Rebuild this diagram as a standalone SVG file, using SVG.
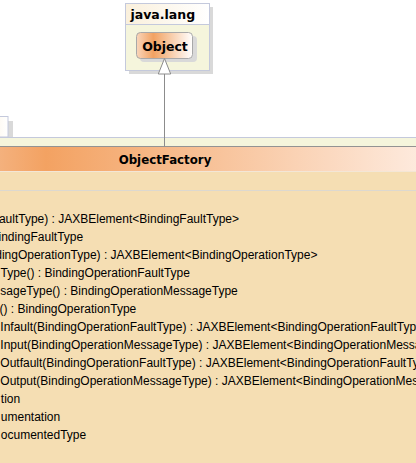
<svg xmlns="http://www.w3.org/2000/svg" width="416" height="463" viewBox="0 0 416 463">
<style>
.op{font-family:"Liberation Sans",Arial,sans-serif;font-size:12px;fill:#000}
.bold{font-family:"DejaVu Sans",Verdana,sans-serif;font-weight:bold;fill:#000}
.pkgborder{stroke:#c4c9dc;stroke-width:1}
.shadow{fill:#d9d9d9}
.conn{stroke:#8c8c8c;stroke-width:1;fill:none}
</style>
<defs>
<linearGradient id="pkgHead" x1="0" y1="0" x2="1" y2="0">
<stop offset="0" stop-color="#faf0dc"/>
<stop offset="1" stop-color="#ffffff"/>
</linearGradient>
<linearGradient id="objGrad" x1="0" y1="0" x2="1" y2="0">
<stop offset="0" stop-color="#f9d6bc"/>
<stop offset="0.3" stop-color="#f2a262"/>
<stop offset="1" stop-color="#ffffff"/>
</linearGradient>
<linearGradient id="clsHead" gradientUnits="userSpaceOnUse" x1="-60" y1="0" x2="470" y2="0">
<stop offset="0" stop-color="#f6c4a0"/>
<stop offset="0.2" stop-color="#f3a262"/>
<stop offset="1" stop-color="#fff4ee"/>
</linearGradient>
</defs>
<rect width="416" height="463" fill="#ffffff"/>

<g id="pkg-outer">
<rect class="shadow" x="8" y="121" width="5" height="16"/>
<rect x="-20" y="116.5" width="28" height="20.5" fill="url(#pkgHead)" class="pkgborder"/>
<rect x="-20" y="137.5" width="460" height="340" fill="#f5f5dc" class="pkgborder"/>
</g>

<g id="java.lang">
<rect class="shadow" x="129" y="7" width="84" height="67"/>
<rect x="125.5" y="3.5" width="84" height="67" fill="#f5f5dc" class="pkgborder"/>
<rect x="125.5" y="3.5" width="84" height="21" fill="url(#pkgHead)" class="pkgborder"/>
<text class="bold" x="130.5" y="18.5" font-size="12.5">java.lang</text>
</g>

<g id="Object">
<rect class="shadow" x="140" y="36" width="57" height="26" rx="4"/>
<rect x="136.5" y="32.5" width="56" height="26" rx="4" fill="url(#objGrad)" stroke="#a8a8a8"/>
<text class="bold" x="165" y="51" font-size="12.5" text-anchor="middle">Object</text>
</g>

<g id="ObjectFactory">
<rect x="-20" y="146.5" width="460" height="330" fill="#f5deb3" stroke="#939393"/>
<rect x="-20" y="147" width="460" height="24" fill="url(#clsHead)"/>
<line x1="-20" y1="171.5" x2="440" y2="171.5" stroke="#f3e6d6"/>
<line x1="-20" y1="190.5" x2="440" y2="190.5" stroke="#dcd8d0"/>
<text class="bold" x="165" y="163.5" font-size="11.8" text-anchor="middle">ObjectFactory</text>
<text class="op" x="-1.1" y="222.7">aultType) : JAXBElement&lt;BindingFaultType&gt;</text>
<text class="op" x="-1.5" y="240.7">indingFaultType</text>
<text class="op" x="-4.8" y="258.8">dingOperationType) : JAXBElement&lt;BindingOperationType&gt;</text>
<text class="op" x="0.5" y="276.8">Type() : BindingOperationFaultType</text>
<text class="op" x="0.3" y="294.9">sageType() : BindingOperationMessageType</text>
<text class="op" x="-0.5" y="312.9">() : BindingOperationType</text>
<text class="op" x="0.3" y="331">Infault(BindingOperationFaultType) : JAXBElement&lt;BindingOperationFaultType&gt;</text>
<text class="op" x="0.3" y="349">Input(BindingOperationMessageType) : JAXBElement&lt;BindingOperationMessageType&gt;</text>
<text class="op" x="0.3" y="367.1">Outfault(BindingOperationFaultType) : JAXBElement&lt;BindingOperationFaultType&gt;</text>
<text class="op" x="0.3" y="385.1">Output(BindingOperationMessageType) : JAXBElement&lt;BindingOperationMessageType&gt;</text>
<text class="op" x="0.8" y="403.2">tion</text>
<text class="op" x="0.8" y="421.2">umentation</text>
<text class="op" x="0.8" y="439.3">ocumentedType</text>
</g>

<g id="connectors">
<line class="conn" x1="164.5" y1="74" x2="164.5" y2="146.5"/>
<polygon points="164.5,58.5 158.3,74 170.7,74" fill="#ffffff" stroke="#8c8c8c"/>
</g>
</svg>
